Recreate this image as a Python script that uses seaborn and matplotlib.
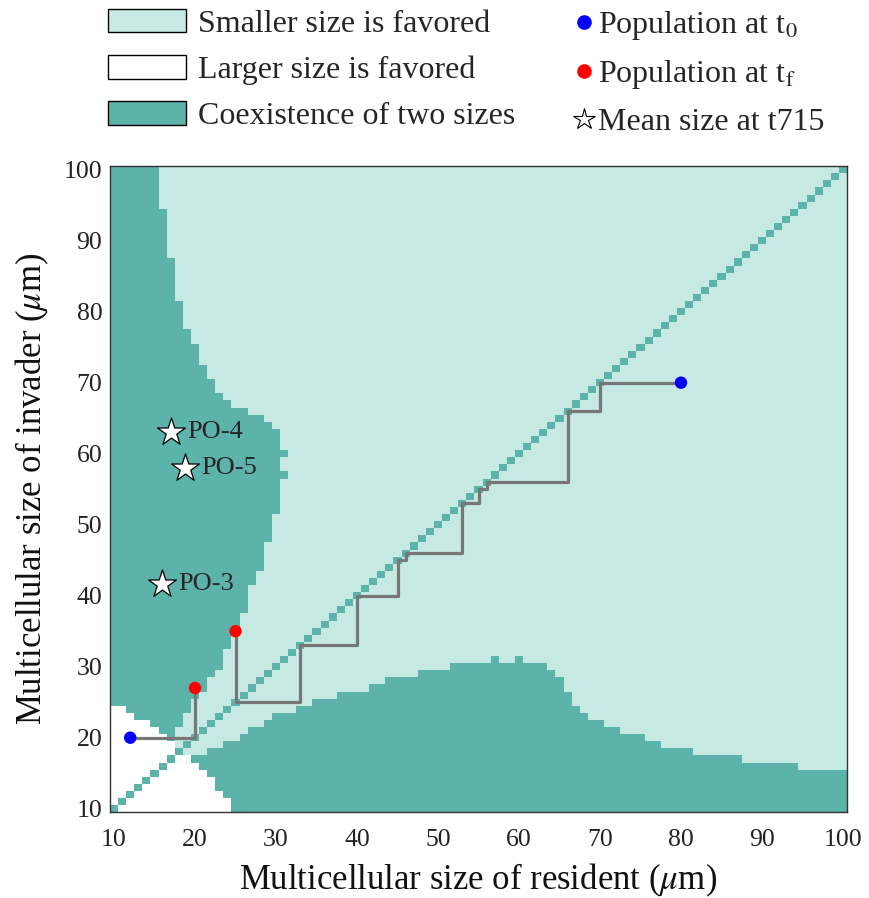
import numpy as np
import pandas as pd
import matplotlib
matplotlib.use("Agg")
import matplotlib.pyplot as plt
import seaborn as sns
from matplotlib.colors import ListedColormap
from matplotlib.patches import Patch
from matplotlib.lines import Line2D

# ---------------- data ----------------
sizes = list(range(10, 101))                 # grid of sizes (um)
tick_values = [10, 20, 30, 40, 50, 60, 70, 80, 90, 100]

# coexistence region below the diagonal: highest invader size per resident size (20..100)
coex_resident = list(range(20, 101))
coex_top = [17, 17, 18, 18, 19, 19, 20, 21, 21, 22, 23, 23, 23, 24, 24, 25, 25, 25,
            26, 26, 26, 26, 27, 27, 28, 28, 28, 28, 29, 29, 29, 29, 30, 30, 30, 30, 30,
            31, 30, 30, 31, 30, 30, 30, 29, 28, 26, 24, 23, 22, 22, 21, 21, 20, 20, 20,
            19, 19, 18, 18, 18, 18, 17, 17, 17, 17, 17, 17, 16, 16, 16, 16, 16, 16, 16,
            15, 15, 15, 15, 15, 15]
# lowest rows: smallest resident size in the coexistence region
coex_low_invader = [10, 11, 12, 13, 14, 15, 16, 17]
coex_left = [25, 25, 24, 23, 23, 22, 21, 20]
singular_size = 17.5      # sizes below this (near the origin) favour larger invaders
white_extent = 25         # extent of the "larger size is favored" zone

# evolutionary trajectory (resident, invader)
path_res = [80, 70, 70, 66, 66, 56, 56, 55, 55, 53, 53, 46, 46, 45, 45, 40, 40, 33, 33, 25, 25]
path_inv = [70, 70, 66, 66, 56, 56, 55, 55, 53, 53, 46, 46, 45, 45, 40, 40, 33, 33, 25, 25, 35]
path2_res = [12, 20, 20]
path2_inv = [20, 20, 27]
t0_res = [80, 12]
t0_inv = [70, 20]
tf_res = [25, 20]
tf_inv = [35, 27]

star_names = ["PO-4", "PO-5", "PO-3"]
star_res = [17.0, 18.8, 15.9]
star_inv = [63.0, 58.0, 41.6]

col_light = "#c7e9e3"
col_white = "#ffffff"
col_dark = "#5bb3aa"
col_path = "#777777"

# ---------------- build category matrix ----------------
n = len(sizes)
idx = {v: i for i, v in enumerate(sizes)}
low = np.zeros((n, n), dtype=bool)   # [invader, resident]
left_of = dict(zip(coex_low_invader, coex_left))
for r, top in zip(coex_resident, coex_top):
    for y in range(10, top + 1):
        if y in left_of and r < left_of[y]:
            continue
        low[idx[y], idx[r]] = True
coex = low | low.T | np.eye(n, dtype=bool)
R, Y = np.meshgrid(np.array(sizes), np.array(sizes))
larger = (np.minimum(R, Y) < singular_size) & (np.maximum(R, Y) < white_extent)
cat = np.where(coex, 2, np.where(larger, 1, 0))
df = pd.DataFrame(cat[::-1, :], index=sizes[::-1], columns=sizes)

# ---------------- plotting ----------------
sns.set_style("white")
plt.rcParams["font.family"] = ["Liberation Serif", "DejaVu Serif"]
plt.rcParams["mathtext.fontset"] = "stix"

fig = plt.figure(figsize=(8.70, 8.98), dpi=100)
ax = fig.add_axes([0.1264, 0.0955, 0.8472, 0.7195])

sns.heatmap(df, cmap=ListedColormap([col_light, col_white, col_dark]), vmin=-0.5, vmax=2.5,
            cbar=False, ax=ax, xticklabels=False, yticklabels=False, linewidths=0)

x0 = sizes[0] - 0.5
y1 = sizes[-1] + 0.5
hx = lambda v: np.asarray(v, dtype=float) - x0
hy = lambda v: y1 - np.asarray(v, dtype=float)

sns.lineplot(x=hx(path_res), y=hy(path_inv), sort=False, estimator=None, color=col_path,
             lw=2.3, ax=ax, zorder=3)
sns.lineplot(x=hx(path2_res), y=hy(path2_inv), sort=False, estimator=None, color=col_path,
             lw=2.3, ax=ax, zorder=3)
sns.scatterplot(x=hx(t0_res), y=hy(t0_inv), color="#0000ff", s=80, edgecolor="none", ax=ax, zorder=4)
sns.scatterplot(x=hx(tf_res), y=hy(tf_inv), color="#ff0000", s=80, edgecolor="none", ax=ax, zorder=4)
sns.scatterplot(x=hx(star_res), y=hy(star_inv), marker="*", s=440, color="white",
                edgecolor="black", linewidth=0.9, ax=ax, zorder=5)
for name, sx, sy in zip(star_names, star_res, star_inv):
    ax.text(float(hx(sx)) + 2.0, float(hy(sy)), name, fontsize=19, va="center", ha="left", zorder=6)

ax.set_xlim(0, n)
ax.set_ylim(n, 0)
ax.set_xticks(hx(tick_values))
ax.set_xticklabels([str(t) for t in tick_values])
ax.set_yticks(hy(tick_values))
ax.set_yticklabels([str(t) for t in tick_values])
ax.tick_params(axis="both", direction="in", top=True, right=True, bottom=True, left=True,
               length=6, width=1, labelsize=18.5, colors="#222222")
ax.tick_params(axis="x", pad=12)
ax.tick_params(axis="y", pad=5.5)
for s in ax.spines.values():
    s.set_visible(True)
    s.set_color("#333333")
    s.set_linewidth(1.0)
ax.set_xlabel(r"Multicellular size of resident ($\mu$m)", fontsize=25, labelpad=8,
              visible=True, color="#111111")
ax.set_ylabel(r"Multicellular size of invader ($\mu$m)", fontsize=25, labelpad=9,
              visible=True, color="#111111")

h_left = [Patch(facecolor=col_light, edgecolor="black", lw=1),
          Patch(facecolor=col_white, edgecolor="black", lw=1),
          Patch(facecolor=col_dark, edgecolor="black", lw=1)]
l_left = ["Smaller size is favored", "Larger size is favored", "Coexistence of two sizes"]
leg1 = fig.legend(h_left, l_left, loc="upper left", bbox_to_anchor=(108 / 870, 1 - 9 / 898),
                  frameon=False, fontsize=23, handlelength=2.45, handleheight=0.75,
                  handletextpad=0.38, labelspacing=0.51, borderpad=0, borderaxespad=0)

h_right = [Line2D([], [], ls="none", marker="o", markerfacecolor="#0000ff", markeredgecolor="#0000ff", markersize=9.5),
           Line2D([], [], ls="none", marker="o", markerfacecolor="#ff0000", markeredgecolor="#ff0000", markersize=9.5),
           Line2D([], [], ls="none", marker="*", markerfacecolor="white", markeredgecolor="black", markersize=16, markeredgewidth=0.8)]
l_right = [r"Population at t$_0$", r"Population at t$_\mathrm{f}$", "Mean size at t715"]
leg2 = fig.legend(h_right, l_right, loc="upper left", bbox_to_anchor=(575 / 870, 1 - 9 / 898),
                  frameon=False, fontsize=23, handlelength=0.55, handletextpad=0.18,
                  labelspacing=0.51, borderpad=0, borderaxespad=0)

fig.savefig("out.png", dpi=100)
